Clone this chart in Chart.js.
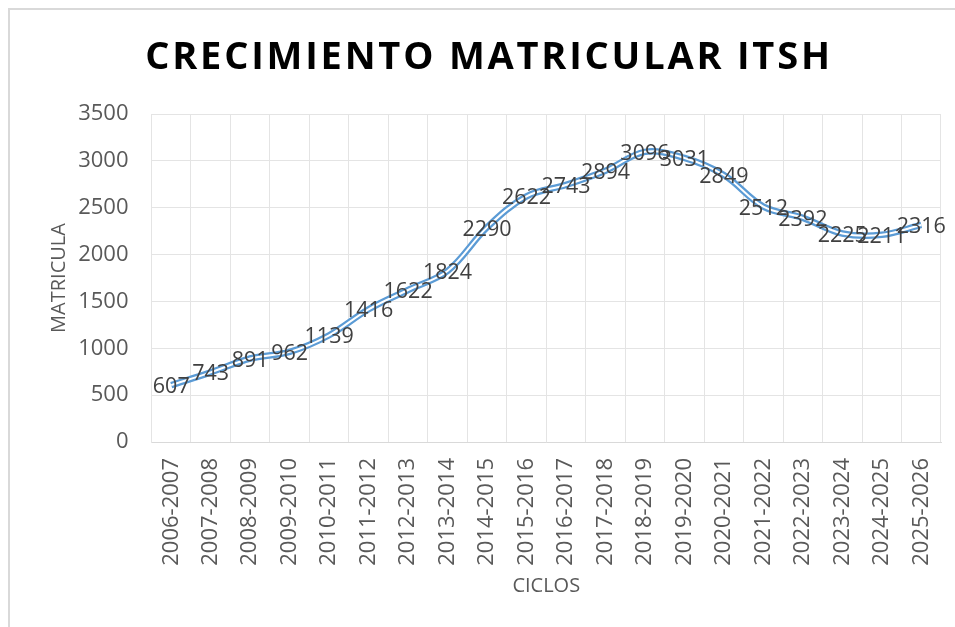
<!DOCTYPE html>
<html>
<head>
<meta charset="utf-8">
<script src="https://cdn.jsdelivr.net/npm/chart.js@4.4.0/dist/chart.umd.min.js"></script>
<style>
body{margin:0;background:#fff;}
#wrap{position:relative;width:955px;height:627px;overflow:hidden;}
#marco{position:absolute;left:8px;top:8px;width:1000px;height:1000px;border-top:2px solid #d9d9d9;border-left:2px solid #d9d9d9;}
#titulo{position:absolute;left:0;top:35px;width:978px;text-align:center;font:bold 38px 'Open Sans';line-height:1;letter-spacing:2.8px;color:#000;}
#grafica{position:absolute;left:0;top:0;}
</style>
</head>
<body>
<div id="wrap">
  <div id="marco"></div>
  <canvas id="grafica" width="955" height="627"></canvas>
  <div id="titulo">CRECIMIENTO MATRICULAR ITSH</div>
</div>
<script>
const ciclos = ['2006-2007','2007-2008','2008-2009','2009-2010','2010-2011','2011-2012','2012-2013',
  '2013-2014','2014-2015','2015-2016','2016-2017','2017-2018','2018-2019','2019-2020','2020-2021',
  '2021-2022','2022-2023','2023-2024','2024-2025','2025-2026'];
const matricula = [607,743,891,962,1139,1416,1622,1824,2290,2622,2743,2894,3096,3031,2849,2512,2392,2225,2211,2316];
const marcasY = [0,500,1000,1500,2000,2500,3000,3500];

const gris = '#595959';
const fuente = 'Open Sans';

// etiquetas de datos centradas sobre cada punto
const etiquetas = {
  id: 'etiquetas',
  afterDatasetsDraw(chart) {
    const meta = chart.getDatasetMeta(1);
    const ctx = chart.ctx;
    ctx.save();
    ctx.font = '21.5px ' + fuente;
    ctx.fillStyle = '#404040';
    ctx.textAlign = 'center';
    ctx.textBaseline = 'middle';
    meta.data.forEach((p, i) => {
      ctx.fillText(matricula[i], p.x, p.y + 2);
    });
    ctx.restore();
  }
};

new Chart(document.getElementById('grafica'), {
  type: 'line',
  data: {
    labels: ciclos,
    datasets: [
      { // linea interior blanca
        data: matricula,
        borderColor: '#ffffff',
        borderWidth: 2,
        tension: 0.35,
        pointRadius: 0
      },
      { // contorno azul
        data: matricula,
        borderColor: '#5b9bd5',
        borderWidth: 6.5,
        tension: 0.35,
        pointRadius: 0
      }
    ]
  },
  options: {
    responsive: false,
    animation: false,
    layout: { padding: { top: 114, right: 14, left: 0, bottom: 0 } },
    plugins: { legend: { display: false }, tooltip: { enabled: false } },
    scales: {
      x: {
        offset: true,
        grid: { offset: true, color: '#e4e4e4', drawTicks: false },
        border: { color: '#d9d9d9' },
        ticks: { minRotation: 90, maxRotation: 90, padding: 16, color: gris, font: { family: fuente, size: 22 } },
        title: { display: true, text: 'CICLOS', color: gris, font: { family: fuente, size: 20 }, padding: { bottom: 29 } },
        afterFit(s) { s.height = 185; s.paddingLeft = 0; s.paddingRight = 0; }
      },
      y: {
        min: 0,
        max: 3500,
        afterBuildTicks(s) { s.ticks = marcasY.map(v => ({ value: v })); },
        grid: { color: '#e4e4e4', drawTicks: false },
        border: { color: '#e4e4e4' },
        ticks: { padding: 23, color: gris, font: { family: fuente, size: 22 }, callback: v => String(v) },
        title: { display: true, text: 'MATRICULA', color: gris, font: { family: fuente, size: 20 }, padding: { top: 47 } },
        afterFit(s) { s.width = 151.5; s.paddingTop = 0; s.paddingBottom = 0; }
      }
    }
  },
  plugins: [etiquetas]
});
</script>
</body>
</html>
